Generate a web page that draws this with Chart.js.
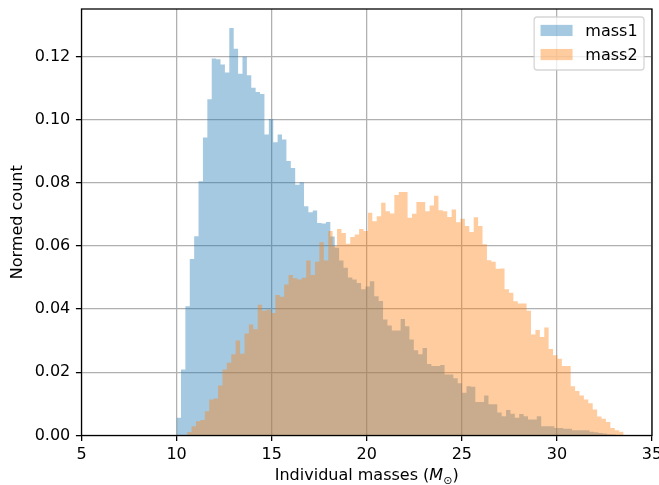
<!DOCTYPE html>
<html>
<head>
<meta charset="utf-8">
<script src="https://cdn.jsdelivr.net/npm/chart.js@4.4.1/dist/chart.umd.min.js"></script>
<style>
  html, body { margin: 0; padding: 0; background: #fff; }
</style>
</head>
<body>
<canvas id="hist" width="659" height="485"></canvas>
<script>
// histogram bins (left edge of first bin, bin width) and normed counts
const mass1Start = 10.0;
const mass1BinWidth = 0.231;
const mass1Density = [
  0.0056, 0.0209, 0.0409, 0.0559, 0.0631, 0.0805, 0.0943, 0.1064, 0.1193, 0.1191,
  0.1174, 0.1149, 0.1290, 0.1224, 0.1145, 0.1199, 0.1140, 0.1101, 0.1087, 0.1081,
  0.0953, 0.1002, 0.0928, 0.0953, 0.0937, 0.0869, 0.0847, 0.0794, 0.0802, 0.0726,
  0.0707, 0.0712, 0.0673, 0.0671, 0.0676, 0.0630, 0.0594, 0.0554, 0.0531, 0.0500,
  0.0494, 0.0483, 0.0463, 0.0472, 0.0488, 0.0441, 0.0426, 0.0367, 0.0348, 0.0332,
  0.0332, 0.0369, 0.0346, 0.0304, 0.0270, 0.0257, 0.0277, 0.0226, 0.0220, 0.0220,
  0.0223, 0.0193, 0.0193, 0.0181, 0.0165, 0.0135, 0.0156, 0.0154, 0.0106, 0.0106,
  0.0127, 0.0099, 0.0099, 0.0073, 0.0061, 0.0081, 0.0069, 0.0056, 0.0068, 0.0061,
  0.0051, 0.0051, 0.0061, 0.0029, 0.0029, 0.0029, 0.0024, 0.0024, 0.0021, 0.0021,
  0.0017, 0.0017, 0.0017, 0.0017, 0.0012, 0.0010, 0.0008, 0.0006, 0.0004, 0.0003
];

const mass2Start = 10.557;
const mass2BinWidth = 0.2318;
const mass2Density = [
  0.0011, 0.0029, 0.0045, 0.0049, 0.0077, 0.0114, 0.0117, 0.0158, 0.0209, 0.0230,
  0.0257, 0.0301, 0.0259, 0.0323, 0.0351, 0.0336, 0.0414, 0.0395, 0.0399, 0.0388,
  0.0445, 0.0439, 0.0478, 0.0508, 0.0498, 0.0494, 0.0499, 0.0554, 0.0508, 0.0550,
  0.0612, 0.0554, 0.0647, 0.0599, 0.0654, 0.0641, 0.0607, 0.0628, 0.0636, 0.0654,
  0.0647, 0.0705, 0.0678, 0.0694, 0.0737, 0.0710, 0.0703, 0.0761, 0.0771, 0.0771,
  0.0689, 0.0702, 0.0739, 0.0739, 0.0710, 0.0728, 0.0759, 0.0713, 0.0710, 0.0692,
  0.0715, 0.0675, 0.0686, 0.0663, 0.0644, 0.0691, 0.0663, 0.0605, 0.0555, 0.0550,
  0.0528, 0.0529, 0.0463, 0.0452, 0.0425, 0.0418, 0.0418, 0.0395, 0.0320, 0.0334,
  0.0312, 0.0342, 0.0274, 0.0254, 0.0243, 0.0220, 0.0220, 0.0156, 0.0141, 0.0127,
  0.0114, 0.0102, 0.0082, 0.0060, 0.0053, 0.0043, 0.0024, 0.0017, 0.0012
];

const seriesLabels = ["mass1", "mass2"];
const xTicks = [5, 10, 15, 20, 25, 30, 35];
const yTicks = [0, 0.02, 0.04, 0.06, 0.08, 0.1, 0.12];
const yTitle = "Normed count";

const FS = 16;
const FAMILY = '"DejaVu Sans", sans-serif';
const blue = "rgba(31, 119, 180, 0.4)";
const orange = "rgba(255, 127, 14, 0.4)";
const gridColor = "#b0b0b0";

Chart.defaults.font.family = FAMILY;
Chart.defaults.font.size = FS;
Chart.defaults.color = "#000";

// one point per bin left edge, plus the closing right edge at zero;
// drawn as a stepped, filled outline so neighbouring bins share one path
function toSteps(start, width, values) {
  const pts = values.map((v, i) => ({ x: start + i * width, y: v }));
  pts.push({ x: start + values.length * width, y: 0 });
  return pts;
}

// spines, framed legend and the x label with the subscript sun symbol
const axesDecor = {
  id: "axesDecor",
  afterDraw(chart) {
    const { ctx, chartArea: a } = chart;
    ctx.save();

    ctx.strokeStyle = "#000";
    ctx.lineWidth = 1.28;
    ctx.strokeRect(a.left, a.top, a.right - a.left, a.bottom - a.top);

    // legend, upper right
    ctx.font = `${FS}px ${FAMILY}`;
    const textW = Math.max(...seriesLabels.map((t) => ctx.measureText(t).width));
    const pad = 0.4 * FS, handleLen = 2 * FS, handleH = 0.7 * FS, gap = 0.8 * FS;
    const rowH = 16.1, rowGap = 0.5 * FS;
    const w = 2 * pad + handleLen + gap + textW;
    const h = 2 * pad + seriesLabels.length * rowH + (seriesLabels.length - 1) * rowGap;
    const left = a.right - 0.5 * FS - w;
    const top = a.top + 0.5 * FS;
    ctx.beginPath();
    ctx.roundRect(left, top, w, h, 3);
    ctx.fillStyle = "rgba(255,255,255,0.8)";
    ctx.fill();
    ctx.strokeStyle = "rgba(204,204,204,0.8)";
    ctx.lineWidth = 1.3;
    ctx.stroke();

    chart.data.datasets.forEach((ds, i) => {
      const cy = top + pad + i * (rowH + rowGap) + rowH / 2;
      ctx.fillStyle = ds.backgroundColor;
      ctx.fillRect(left + pad, cy - handleH / 2 - 1, handleLen, handleH);
      ctx.fillStyle = "#000";
      ctx.textBaseline = "middle";
      ctx.textAlign = "left";
      ctx.fillText(ds.label, left + pad + handleLen + gap, cy);
    });

    // x axis label
    const parts = [
      { text: "Individual masses (", font: `${FS}px ${FAMILY}`, dy: 0 },
      { text: "M", font: `italic ${FS}px ${FAMILY}`, dy: 0 },
      { text: "\u2299", font: `${FS * 0.7}px ${FAMILY}`, dy: 3.5 },
      { text: ")", font: `${FS}px ${FAMILY}`, dy: 0 }
    ];
    let total = 0;
    parts.forEach((p) => { ctx.font = p.font; p.w = ctx.measureText(p.text).width; total += p.w; });
    let x = (a.left + a.right) / 2 - total / 2;
    const baseY = 480;
    ctx.textBaseline = "alphabetic";
    ctx.fillStyle = "#000";
    parts.forEach((p) => {
      ctx.font = p.font;
      ctx.fillText(p.text, x, baseY + p.dy);
      x += p.w;
    });

    ctx.restore();
  }
};

const histStyle = {
  stepped: "before",
  fill: "origin",
  borderWidth: 0,
  borderColor: "transparent",
  pointRadius: 0,
  pointHoverRadius: 0,
  tension: 0
};

new Chart(document.getElementById("hist"), {
  type: "line",
  data: {
    datasets: [
      {
        ...histStyle,
        label: seriesLabels[0],
        data: toSteps(mass1Start, mass1BinWidth, mass1Density),
        backgroundColor: blue,
        order: 1
      },
      {
        ...histStyle,
        label: seriesLabels[1],
        data: toSteps(mass2Start, mass2BinWidth, mass2Density),
        backgroundColor: orange,
        order: 0
      }
    ]
  },
  options: {
    responsive: false,
    devicePixelRatio: 1,
    animation: false,
    layout: { padding: { top: 9, right: 7, left: 0, bottom: 0 } },
    plugins: {
      legend: { display: false },
      tooltip: { enabled: false }
    },
    scales: {
      x: {
        type: "linear",
        min: 5,
        max: 35,
        offset: false,
        z: 1,
        border: { display: false },
        grid: { offset: false, color: gridColor, lineWidth: 1.28, tickColor: "#000", tickLength: 5.6, tickWidth: 1.28 },
        ticks: { padding: 4, maxRotation: 0 },
        afterBuildTicks: (axis) => { axis.ticks = xTicks.map((v) => ({ value: v })); },
        afterFit: (scale) => { scale.height = 49.5; scale.paddingLeft = 0; scale.paddingRight = 0; }
      },
      y: {
        min: 0,
        max: 0.135,
        z: 1,
        border: { display: false },
        grid: { color: gridColor, lineWidth: 1.28, tickColor: "#000", tickLength: 5.6, tickWidth: 1.28 },
        ticks: { padding: 5.6, callback: (v) => v.toFixed(2) },
        afterBuildTicks: (axis) => { axis.ticks = yTicks.map((v) => ({ value: v })); },
        afterFit: (scale) => { scale.width = 81.5; scale.paddingTop = 0; scale.paddingBottom = 0; },
        title: { display: true, text: yTitle, padding: { top: 8, bottom: 0 } }
      }
    }
  },
  plugins: [axesDecor]
});
</script>
</body>
</html>
